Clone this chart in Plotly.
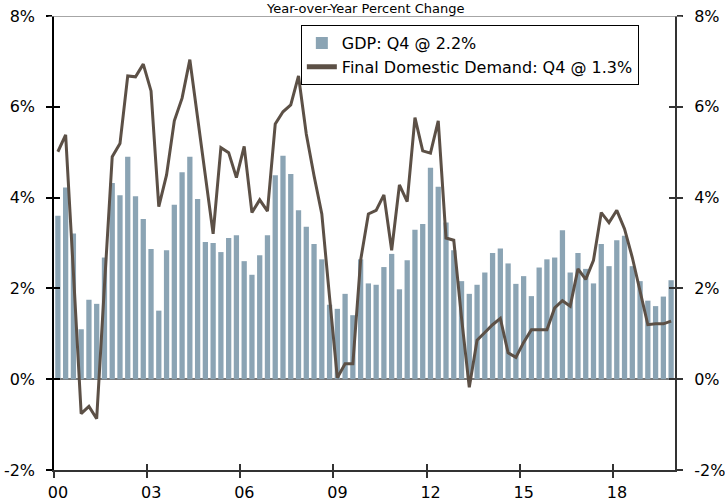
import plotly.graph_objects as go

# Quarterly data 2000Q1 .. 2019Q4 (year-over-year % change)
years = ["00", "03", "06", "09", "12", "15", "18"]
gdp = [3.60, 4.22, 3.21, 1.10, 1.75, 1.66, 2.68, 4.32, 4.05, 4.90, 4.03, 3.53, 2.87, 1.51, 2.84, 3.84, 4.56, 4.90, 3.97, 3.02,
       3.00, 2.80, 3.11, 3.17, 2.60, 2.30, 2.73, 3.17, 4.49, 4.92, 4.52, 3.72, 3.36, 2.98, 2.64, 1.64, 1.55, 1.88, 1.41, 2.64,
       2.11, 2.08, 2.47, 2.76, 1.98, 2.62, 3.29, 3.42, 4.66, 4.24, 3.45, 2.84, 2.16, 1.88, 2.08, 2.35, 2.78, 2.88, 2.55, 2.10,
       2.27, 1.83, 2.46, 2.64, 2.68, 3.28, 2.35, 2.78, 2.43, 2.11, 2.98, 2.49, 3.06, 3.16, 2.49, 2.16, 1.73, 1.61, 1.82, 2.18]
fdd = [5.01, 5.38, 2.35, -0.76, -0.60, -0.87, 2.06, 4.90, 5.19, 6.68, 6.66, 6.94, 6.35, 3.80, 4.50, 5.69, 6.19, 7.04, 5.76, 4.45,
       3.20, 5.10, 4.99, 4.44, 5.13, 3.67, 3.95, 3.70, 5.62, 5.89, 6.04, 6.68, 5.40, 4.48, 3.64, 1.80, 0.03, 0.34, 0.34, 2.62,
       3.64, 3.72, 4.06, 2.84, 4.28, 3.91, 5.76, 5.03, 4.98, 5.69, 3.11, 3.06, 1.35, -0.18, 0.86, 1.03, 1.20, 1.34, 0.58, 0.48,
       0.81, 1.09, 1.09, 1.09, 1.57, 1.73, 1.61, 2.43, 2.20, 2.62, 3.67, 3.45, 3.72, 3.31, 2.68, 1.95, 1.20, 1.22, 1.22, 1.28]
y_ticks = [-2, 0, 2, 4, 6, 8]
y_labels = ["-2%", "0%", "2%", "4%", "6%", "8%"]

n = len(gdp)
xq = [i + 0.5 for i in range(n)]
x_tickvals = [12 * k for k in range(len(years))]

FONT = "DejaVu Sans"
BAR = "#8BA4B4"
LINE = "#5C5046"
XR = [0, n]
YR = [-2, 8]

fig = go.Figure()
fig.add_trace(go.Bar(x=xq, y=gdp, name="GDP: Q4 @ 2.2%", marker=dict(color=BAR, line=dict(width=0))))
fig.add_trace(go.Scatter(x=xq, y=fdd, mode="lines", name="Final Domestic Demand: Q4 @ 1.3%",
                         line=dict(color=LINE, width=3)))
# helper traces so overlay axes are drawn
for xa, ya in [("x", "y2"), ("x", "y3"), ("x", "y4"), ("x2", "y")]:
    fig.add_trace(go.Scatter(x=[None], y=[None], xaxis=xa, yaxis=ya, showlegend=False, hoverinfo="skip"))

tickfont = dict(family=FONT, size=16, color="black")
fig.update_layout(
    width=725, height=502,
    margin=dict(l=54, r=50, t=16, b=32, autoexpand=False),
    paper_bgcolor="white", plot_bgcolor="white",
    font=dict(family=FONT, color="black"),
    bargap=0.32,
    showlegend=True,
    legend=dict(x=0.3975, xanchor="left", y=0.98, yanchor="top",
                bordercolor="black", borderwidth=1, bgcolor="white",
                font=dict(family=FONT, size=16, color="black"),
                tracegroupgap=0, itemsizing="constant"),
    xaxis=dict(range=XR, tickvals=x_tickvals, ticktext=years, ticks="outside", ticklen=6,
               tickwidth=1.5, tickcolor="#333", showline=True, linecolor="#333", linewidth=2,
               showgrid=False, zeroline=False, tickfont=tickfont, ticklabelshift=4,
               ticklabelstandoff=1, automargin=False, fixedrange=True),
    xaxis2=dict(range=XR, overlaying="x", side="bottom", anchor="y", tickvals=x_tickvals,
                ticks="inside", ticklen=6, tickwidth=1.5, tickcolor="#333", automargin=False,
                showticklabels=False, showline=False, showgrid=False, zeroline=False),
    yaxis=dict(range=YR, tickvals=y_ticks, ticktext=y_labels, ticks="outside", ticklen=6,
               tickwidth=1.5, tickcolor="black", showline=True, linecolor="black", linewidth=1.5,
               showgrid=False, zeroline=True, zerolinecolor="#777", zerolinewidth=1.5,
               tickfont=tickfont, ticklabelstandoff=8, automargin=False),
    yaxis2=dict(range=YR, overlaying="y", side="right", anchor="x", tickvals=y_ticks, ticktext=y_labels,
                ticks="outside", ticklen=6, tickwidth=1.5, tickcolor="#333", showline=True,
                linecolor="#333", linewidth=2, showgrid=False, zeroline=False,
                tickfont=tickfont, ticklabelstandoff=8, automargin=False),
    yaxis3=dict(range=YR, overlaying="y", side="left", anchor="x", tickvals=y_ticks,
                ticks="inside", ticklen=6, tickwidth=1.5, tickcolor="black", automargin=False,
                showticklabels=False, showline=False, showgrid=False, zeroline=False),
    yaxis4=dict(range=YR, overlaying="y", side="right", anchor="x", tickvals=y_ticks,
                ticks="inside", ticklen=6, tickwidth=1.5, tickcolor="#333", automargin=False,
                showticklabels=False, showline=False, showgrid=False, zeroline=False),
)

# top border line at 8%
fig.add_shape(type="line", xref="paper", yref="y", x0=-0.009, x1=1.011, y0=YR[1], y1=YR[1],
              line=dict(color="#888", width=1.5), layer="above")

fig.add_annotation(text="Year-over-Year Percent Change", xref="paper", yref="paper", x=0.5, y=1,
                   yanchor="top", yshift=16, showarrow=False, borderpad=0,
                   font=dict(family=FONT, size=13, color="black"))

fig.write_html("out.html", config={"displayModeBar": False},
               post_script="document.body.style.margin='0px';")
